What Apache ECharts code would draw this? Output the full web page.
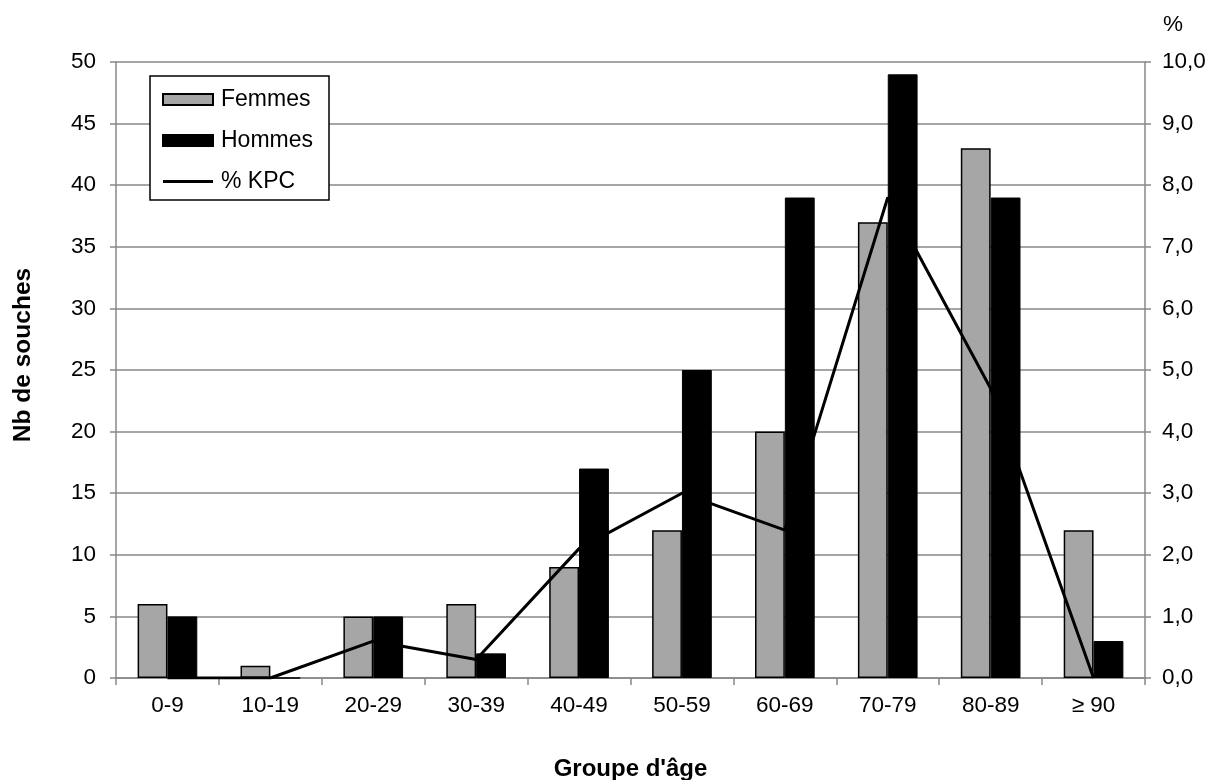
<!DOCTYPE html>
<html>
<head>
<meta charset="utf-8">
<script src="https://cdn.jsdelivr.net/npm/echarts@6/dist/echarts.min.js"></script>
<style>html,body{margin:0;padding:0;background:#fff;}#c{width:1210px;height:780px;}</style>
</head>
<body>
<div id="c"></div>
<script>
const categories = ['0-9','10-19','20-29','30-39','40-49','50-59','60-69','70-79','80-89','≥ 90'];
const femmes = [6,1,5,6,9,12,20,37,43,12];
const hommes = [5,0,5,2,17,25,39,49,39,3];
const kpc = [0,0,0.6,0.3,2.1,3.0,2.4,7.8,4.7,0];

const chart = echarts.init(document.getElementById('c'));
const font = 'Liberation Sans, Arial, sans-serif';
const lineIcon = 'path://M0,0L0.01,0L0,0.01Z M0,4L50,4L50,7L0,7Z M0,11L0.01,11L0,10.99Z';
chart.setOption({
  animation:false,
  backgroundColor:'#fff',
  textStyle:{fontFamily:font},
  grid:{left:116,right:65,top:62,bottom:102,containLabel:false,outerBoundsMode:'none'},
  legend:{
    orient:'vertical', left:150, top:76,
    backgroundColor:'#fff', borderColor:'#000', borderWidth:1.5,
    padding:[12,16,7,12], itemGap:18, itemWidth:50, itemHeight:11,
    textStyle:{fontSize:23,color:'#000',fontFamily:font,padding:[0,0,0,3]},
    data:[{name:'Femmes',icon:'rect'},{name:'Hommes',icon:'rect'},{name:'% KPC',icon:lineIcon,itemStyle:{color:'#000',borderWidth:0}}]
  },
  xAxis:{
    type:'category', data:categories,
    name:"Groupe d'âge", nameLocation:'middle', nameGap:79,
    nameTextStyle:{fontSize:24,fontWeight:'bold',color:'#000'},
    axisLine:{lineStyle:{color:'#888',width:1.5}},
    axisTick:{show:true,length:7,lineStyle:{color:'#888',width:1.5}},
    axisLabel:{fontSize:22.5,color:'#000',margin:16}
  },
  yAxis:[{
    type:'value', min:0, max:50, interval:5,
    name:'Nb de souches', nameLocation:'middle', nameGap:80,
    nameTextStyle:{fontSize:24.5,fontWeight:'bold',color:'#000',padding:[0,0,0,30]},
    axisLine:{show:true,lineStyle:{color:'#888',width:1.5}},
    axisTick:{show:true,length:6,lineStyle:{color:'#888',width:1.5}},
    axisLabel:{fontSize:22.5,color:'#000',margin:20},
    splitLine:{lineStyle:{color:'#888',width:1.5}}
  },{
    type:'value', min:0, max:10, interval:1,
    name:'%', nameLocation:'end', nameGap:26,
    nameTextStyle:{fontSize:22.5,color:'#000',align:'left',padding:[0,0,0,18]},
    axisLine:{show:true,lineStyle:{color:'#888',width:1.5}},
    axisTick:{show:true,length:6,lineStyle:{color:'#888',width:1.5}},
    axisLabel:{fontSize:22.5,color:'#000',margin:17,formatter:v=>v.toFixed(1).replace('.',',')},
    splitLine:{show:false}
  }],
  series:[
    {name:'Femmes',type:'bar',data:femmes,barGap:'0%',barCategoryGap:'42%',
     itemStyle:{color:'#a6a6a6',borderColor:'#000',borderWidth:1.5}},
    {name:'Hommes',type:'bar',data:hommes,
     itemStyle:{color:'#000',borderColor:'#000',borderWidth:1}},
    {name:'% KPC',type:'line',yAxisIndex:1,data:kpc,symbol:'none',z:5,
     lineStyle:{color:'#000',width:3},itemStyle:{color:'#000'}}
  ]
});
</script>
</body>
</html>
